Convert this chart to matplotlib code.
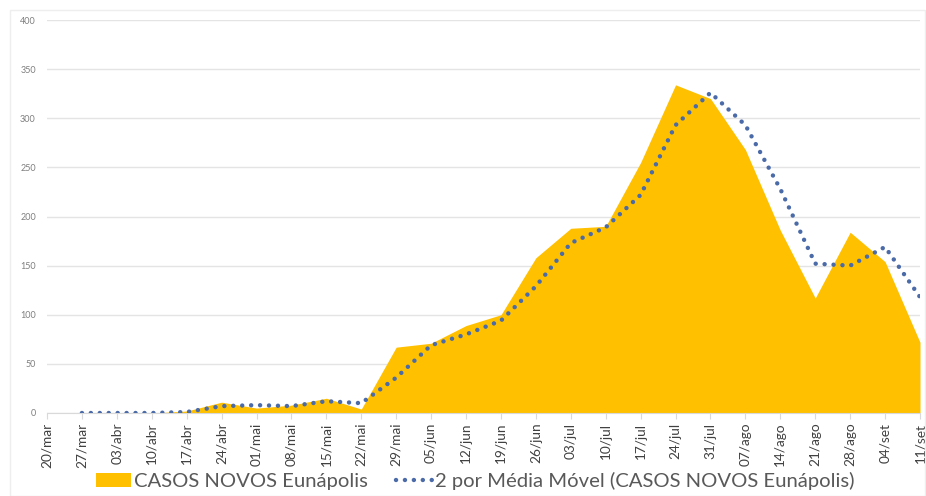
import matplotlib
matplotlib.use("Agg")
import matplotlib.pyplot as plt
from matplotlib.patches import Rectangle, Patch
from matplotlib.lines import Line2D

# Weekly new cases, Eunápolis
dates = ["20/mar", "27/mar", "03/abr", "10/abr", "17/abr", "24/abr", "01/mai", "08/mai",
         "15/mai", "22/mai", "29/mai", "05/jun", "12/jun", "19/jun", "26/jun", "03/jul",
         "10/jul", "17/jul", "24/jul", "31/jul", "07/ago", "14/ago", "21/ago", "28/ago",
         "04/set", "11/set"]
cases = [0, 0, 0, 0, 2, 11, 5, 8, 15, 4, 67, 71, 89, 100, 158, 188,
         190, 255, 334, 320, 268, 186, 117, 184, 154, 72]
# 2-period moving average (starts at 27/mar)
ma_dates = dates[1:]
ma_values = [0, 0, 0, 1, 7, 8, 7, 12, 10, 36, 69, 80, 94, 129, 173,
             189, 222, 293, 326, 293, 228, 152, 150, 169, 118]

yticks = [0, 50, 100, 150, 200, 250, 300, 350, 400]

plt.rcParams['font.family'] = ['Lato', 'DejaVu Sans']

fig = plt.figure(figsize=(9.26, 4.96), dpi=100)
ax = fig.add_axes([47 / 926, 1 - 413 / 496, 873 / 926, 393 / 496])

x = list(range(len(dates)))
x_ma = [dates.index(d) for d in ma_dates]

ax.fill_between(x, cases, 0, color="#FFC000", linewidth=0, zorder=2)
ax.plot(x_ma, ma_values, color="#4a6aa8", linewidth=3.2,
        linestyle=(0, (0.01, 2.0)), dash_capstyle='round', zorder=3)

ax.set_xlim(0, len(dates) - 1)
ax.set_ylim(0, 400)
ax.set_yticks(yticks)
ax.set_yticklabels([str(v) for v in yticks], fontsize=6.5, color="#7f7f7f")
ax.set_xticks(x)
ax.set_xticklabels(dates, rotation=90, fontsize=9.8, color="#404040")

ax.grid(axis='y', color="#e4e4e4", linewidth=1, zorder=0)
ax.set_axisbelow(True)
for side in ['top', 'right', 'left']:
    ax.spines[side].set_visible(False)
ax.spines['bottom'].set_color("#d9d9d9")
ax.tick_params(axis='y', length=0, pad=8)
ax.tick_params(axis='x', length=4, color="#d9d9d9", pad=3)

# light chart frame
fig.patches.append(Rectangle((10 / 926, 0), 915 / 926, 486 / 496, transform=fig.transFigure,
                             fill=False, edgecolor="#eeeeee", linewidth=1))

handles = [Patch(facecolor="#FFC000", edgecolor="none"),
           Line2D([0], [0], color="#4a6aa8", linewidth=3.2,
                  linestyle=(0, (0.01, 2.0)), dash_capstyle='round')]
labels = ["CASOS NOVOS Eunápolis", "2 por Média Móvel (CASOS NOVOS Eunápolis)"]
fig.legend(handles, labels, loc='center', bbox_to_anchor=(475 / 926, 1 - 481 / 496),
           ncol=2, frameon=False, fontsize=14.6, labelcolor="#595959",
           handlelength=1.75, handleheight=0.75, columnspacing=1.4, handletextpad=0.15)

fig.savefig("out.png", dpi=100)
